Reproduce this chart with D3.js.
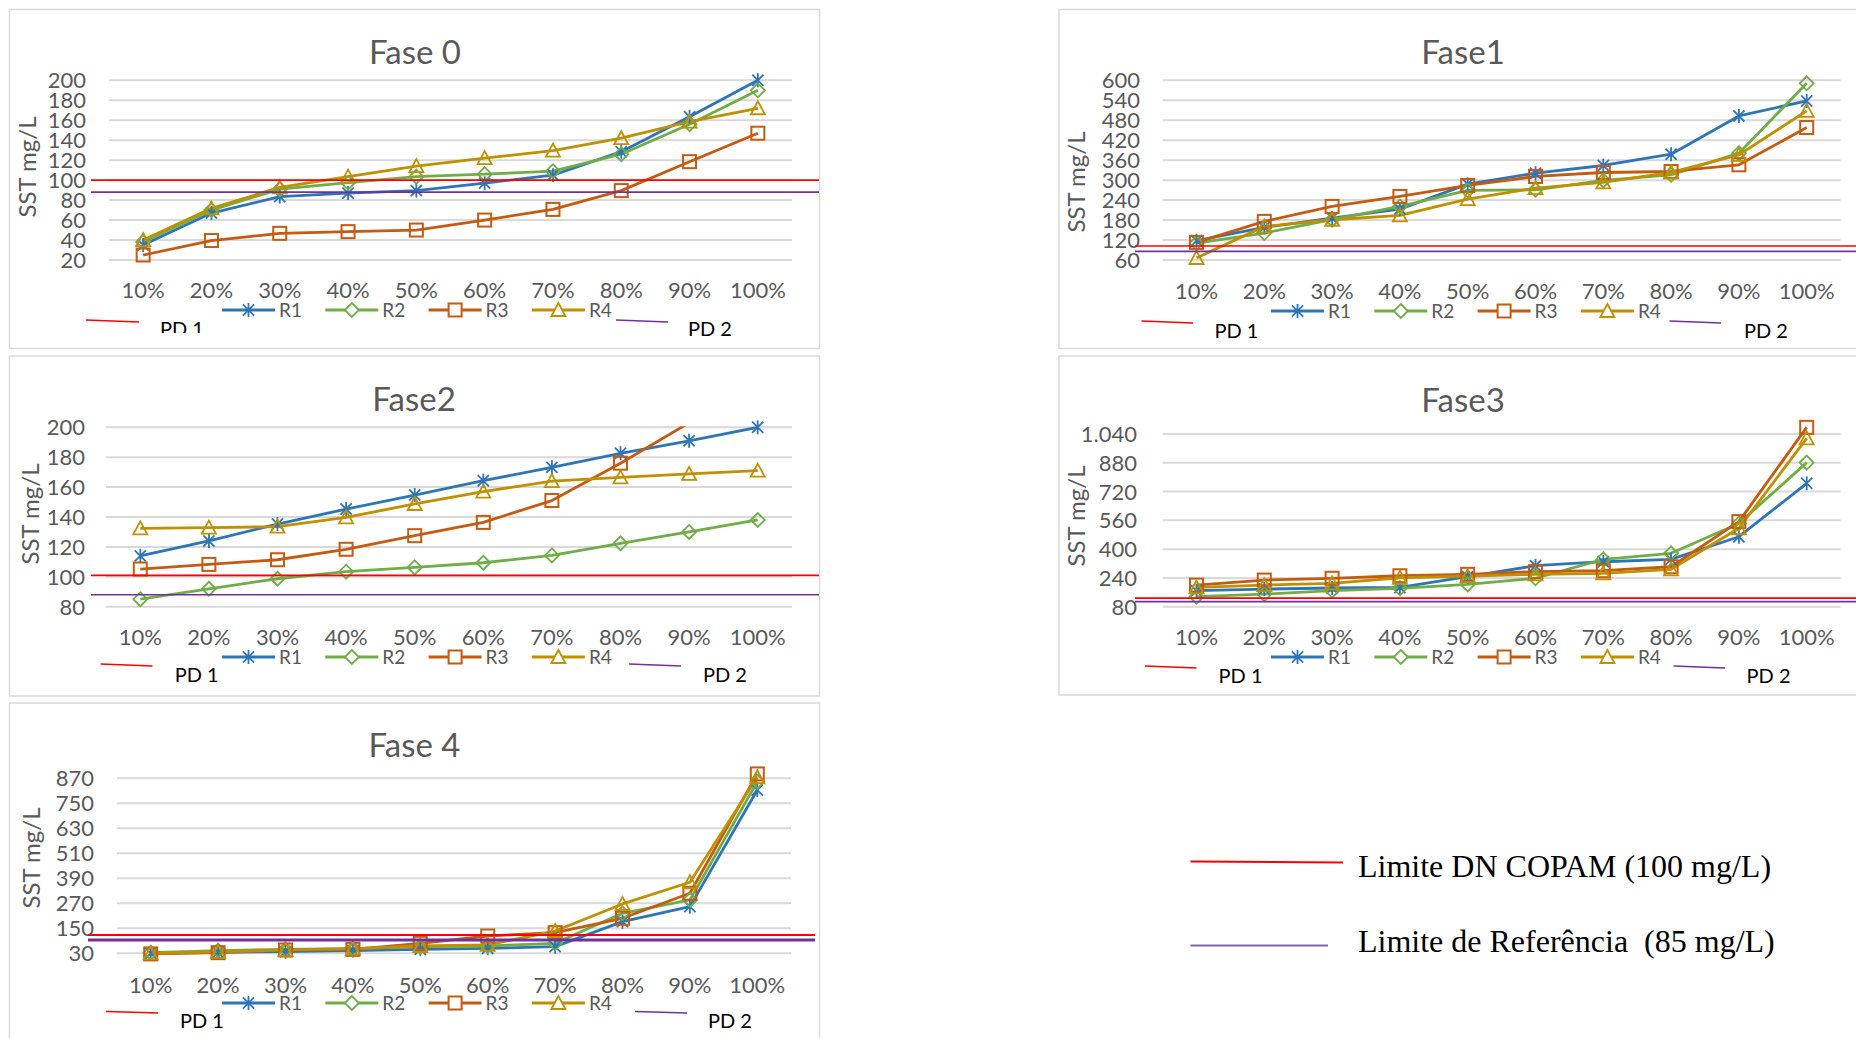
<!DOCTYPE html>
<html><head><meta charset="utf-8">
<script src="https://cdn.jsdelivr.net/npm/d3@7"></script>
<style>
body{margin:0;background:#fff;}
svg{display:block;font-family:Lato,"Open Sans",sans-serif;}
</style></head><body>
<svg id="c" width="1856" height="1038"></svg>
<script>
// ---------- DATA ----------
const categories = ["10%","20%","30%","40%","50%","60%","70%","80%","90%","100%"];
const seriesNames = ["R1","R2","R3","R4"];
const titles = ["Fase 0","Fase1","Fase2","Fase3","Fase 4"];

const fase0R1 = [35, 67, 83.5, 87, 89.5, 97, 105, 128.5, 163.5, 200];
const fase0R2 = [38, 70, 91, 97.5, 103.5, 106, 109, 126, 156, 190];
const fase0R3 = [25, 39.5, 46.7, 48.4, 50, 60, 70.7, 89.5, 118.5, 147];
const fase0R4 = [40, 71.7, 92.8, 103.5, 114, 122, 129.5, 142, 158.6, 172];

const fase1R1 = [118, 158, 186, 213, 288, 321, 344, 378, 493, 538];
const fase1R2 = [111, 141, 181, 221, 269, 271, 299, 316, 381, 591];
const fase1R3 = [113, 176, 221, 251, 284, 311, 323, 326, 346, 458];
const fase1R4 = [66, 161, 181, 194, 243, 276, 293, 323, 376, 508];

const fase2R1 = [114, 124, 135.3, 145.3, 154.7, 164.3, 173.2, 182.6, 191, 200];
const fase2R2 = [85, 92, 98.7, 103.4, 106.3, 109.4, 114.3, 122.4, 130, 138];
const fase2R3 = [105.2, 108.3, 111.4, 118.4, 127.5, 136.4, 151, 176, 203, 240];
const fase2R4 = [132.4, 132.9, 133.5, 139.8, 148.7, 157, 164, 166.5, 168.8, 171];

const fase3R1 = [169, 178, 184, 187, 247, 308, 330, 343, 469, 766];
const fase3R2 = [136, 150, 169, 182, 204, 238, 343, 377, 543, 881];
const fase3R3 = [200, 228, 238, 252, 260, 275, 280, 302, 553, 1077];
const fase3R4 = [187, 200, 210, 241, 250, 260, 265, 288, 516, 1016];

const fase4R1 = [30, 35, 38, 43, 49, 54, 62, 182, 254, 814];
const fase4R2 = [33, 43, 49, 52, 62, 65, 78, 222, 286, 854];
const fase4R3 = [27, 33, 46, 49, 78, 113, 129, 198, 318, 891];
const fase4R4 = [30, 37, 46, 52, 65, 70, 137, 267, 371, 875];

const fase0Ticks = [20,40,60,80,100,120,140,160,180,200];
const fase1Ticks = [60,120,180,240,300,360,420,480,540,600];
const fase2Ticks = [80,100,120,140,160,180,200];
const fase3Ticks = [80,240,400,560,720,880,1040];
const fase4Ticks = [30,150,270,390,510,630,750,870];

// limit lines as drawn over each panel
const copamDrawn = [100, 102, 101, 128, 118];
const refDrawn   = [88, 86, 88, 108, 94];

const legendLabels = ["Limite DN COPAM (100 mg/L)", "Limite de Referência  (85 mg/L)"];

// ---------- STYLE / LAYOUT ----------
const colors = ["#2e75b6","#70ad47","#c55a11","#bf9000"];
const gray = "#595959";
const ptBR = d3.formatLocale({decimal:",", thousands:".", grouping:[3], currency:["R$",""]});
const fmt = ptBR.format(",");

const panels = [
 {series:[fase0R1,fase0R2,fase0R3,fase0R4], ticks:fase0Ticks,
  box:[9.5,9.5,810,339], xr:[109,792], yr:[260,80.3], titleX:415, titleY:64, tickRight:86, xLabY:298,
  legY:310, legX:222, ytX:36, ytY:167, refX:[91,819], pdY:[320,322], pd1:[86,139], pd1T:160,
  pd2:[616,668], pd2T:688, pdTextY:336, pdClip:333, refW:[1.7,1.7]},
 {series:[fase1R1,fase1R2,fase1R3,fase1R4], ticks:fase1Ticks,
  box:[1059,9.5,820,339], xr:[1162.6,1840.6], yr:[260,80.3], titleX:1463, titleY:64, tickRight:1140, xLabY:299,
  legY:311, legX:1271, ytX:1085, ytY:182, refX:[1135,1856], pdY:[321,323], pd1:[1141.5,1193], pd1T:1214.5,
  pd2:[1669.5,1721], pd2T:1744, pdTextY:338, refW:[1.7,1.7]},
 {series:[fase2R1,fase2R2,fase2R3,fase2R4], ticks:fase2Ticks,
  box:[9.5,356,810,340], xr:[106,792], yr:[606.7,427.3], titleX:414, titleY:411, tickRight:85, xLabY:645,
  legY:657, legX:222, ytX:38.5, ytY:514, refX:[91,819], pdY:[664,666], pd1:[100.6,152.5], pd1T:174.7,
  pd2:[629,681], pd2T:703, pdTextY:682, clipMax:200, refW:[1.7,1.7]},
 {series:[fase3R1,fase3R2,fase3R3,fase3R4], ticks:fase3Ticks,
  box:[1059,356,820,339], xr:[1162.6,1840.6], yr:[606.7,434], titleX:1463, titleY:412, tickRight:1137, xLabY:645,
  legY:657, legX:1271, ytX:1085, ytY:516, refX:[1135,1856], pdY:[666,668], pd1:[1145,1196.5], pd1T:1218.6,
  pd2:[1673.6,1725], pd2T:1746.6, pdTextY:683, refW:[1.7,1.7]},
 {series:[fase4R1,fase4R2,fase4R3,fase4R4], ticks:fase4Ticks,
  box:[9.5,703,810,400], xr:[117,791], yr:[953.3,778.3], titleX:414.5, titleY:757, tickRight:94, xLabY:993,
  legY:1003, legX:222, ytX:40, ytY:858, refX:[88,815], pdY:[1011.5,1013], pd1:[106,158], pd1T:180,
  pd2:[635,687], pd2T:708, pdTextY:1028, refW:[2,3]}
];

const svg = d3.select("#c");
const defs = svg.append("defs");

function marker(g, type, x, y, color, fill){
  const s = 7;
  if(type===0){
    const p = d3.path();
    p.moveTo(x-s*0.8,y-s*0.8); p.lineTo(x+s*0.8,y+s*0.8);
    p.moveTo(x+s*0.8,y-s*0.8); p.lineTo(x-s*0.8,y+s*0.8);
    p.moveTo(x,y-s); p.lineTo(x,y+s);
    g.append("path").attr("d",p.toString()).attr("stroke",color).attr("stroke-width",1.8).attr("fill","none");
  } else if(type===1){
    g.append("path").attr("d",`M${x},${y-s}L${x+s},${y}L${x},${y+s}L${x-s},${y}Z`)
     .attr("stroke",color).attr("stroke-width",1.8).attr("fill",fill);
  } else if(type===2){
    g.append("rect").attr("x",x-6.5).attr("y",y-6.5).attr("width",13).attr("height",13)
     .attr("stroke",color).attr("stroke-width",2).attr("fill",fill);
  } else {
    g.append("path").attr("d",`M${x},${y-7}L${x+7},${y+6}L${x-7},${y+6}Z`)
     .attr("stroke",color).attr("stroke-width",1.8).attr("fill",fill);
  }
}

panels.forEach((P,i)=>{
  const g = svg.append("g");
  // panel border
  g.append("rect").attr("x",P.box[0]).attr("y",P.box[1]).attr("width",P.box[2]).attr("height",P.box[3])
   .attr("fill","#fff").attr("stroke","#d9d9d9").attr("stroke-width",1.5);

  const x = d3.scalePoint().domain(categories).range(P.xr).padding(0.5);
  const y = d3.scaleLinear().domain([P.ticks[0], P.ticks[P.ticks.length-1]]).range(P.yr);

  // title
  g.append("text").attr("x",P.titleX).attr("y",P.titleY).attr("text-anchor","middle")
   .attr("font-size",33).attr("fill",gray).text(titles[i]);

  // gridlines + y tick labels
  const grid = g.append("g");
  grid.selectAll("line").data(P.ticks).join("line")
   .attr("x1",P.xr[0]).attr("x2",P.xr[1]).attr("y1",d=>y(d)).attr("y2",d=>y(d))
   .attr("stroke","#d9d9d9").attr("stroke-width",2);
  grid.selectAll("text").data(P.ticks).join("text")
   .attr("x",P.tickRight).attr("y",d=>y(d)+8).attr("text-anchor","end")
   .attr("font-size",22).attr("fill",gray).text(d=>fmt(d));

  // x labels
  g.append("g").selectAll("text").data(categories).join("text")
   .attr("x",d=>x(d)).attr("y",P.xLabY).attr("text-anchor","middle")
   .attr("font-size",22).attr("fill",gray).text(d=>d);

  // y axis title
  g.append("text").attr("transform",`translate(${P.ytX},${P.ytY}) rotate(-90)`)
   .attr("text-anchor","middle").attr("font-size",24).attr("fill",gray).text("SST mg/L");

  // clip for series lines
  const clipId = "clip"+i;
  const topY = P.clipMax!==undefined ? y(P.clipMax) - 1 : P.box[1];
  defs.append("clipPath").attr("id",clipId).append("rect")
   .attr("x",P.box[0]).attr("y",topY).attr("width",P.box[2]).attr("height",P.box[1]+P.box[3]-topY);

  // series
  const line = d3.line().x((d,j)=>x(categories[j])).y(d=>y(d));
  P.series.forEach((vals,s)=>{
    g.append("path").attr("d",line(vals)).attr("fill","none").attr("stroke",colors[s])
     .attr("stroke-width",2.8).attr("stroke-linejoin","round").attr("clip-path",`url(#${clipId})`);
  });
  P.series.forEach((vals,s)=>{
    const mg = g.append("g");
    vals.forEach((v,j)=>{
      if(P.clipMax!==undefined && v>P.clipMax) return;
      marker(mg, s, x(categories[j]), y(v), colors[s], "none");
    });
  });

  // limit lines
  g.append("line").attr("x1",P.refX[0]).attr("x2",P.refX[1]).attr("y1",y(copamDrawn[i])).attr("y2",y(copamDrawn[i]))
   .attr("stroke","#ff0000").attr("stroke-width",P.refW[0]);
  g.append("line").attr("x1",P.refX[0]).attr("x2",P.refX[1]).attr("y1",y(refDrawn[i])).attr("y2",y(refDrawn[i]))
   .attr("stroke","#7030a0").attr("stroke-width",P.refW[1]);

  // series legend
  const lg = g.append("g");
  seriesNames.forEach((n,s)=>{
    const lx = P.legX + s*103.3;
    lg.append("line").attr("x1",lx).attr("x2",lx+53).attr("y1",P.legY).attr("y2",P.legY)
     .attr("stroke",colors[s]).attr("stroke-width",2.8);
    marker(lg, s, lx+26.5, P.legY, colors[s], "#fff");
    lg.append("text").attr("x",lx+57).attr("y",P.legY+7).attr("font-size",19).attr("fill",gray).text(n);
  });

  // PD legend
  g.append("line").attr("x1",P.pd1[0]).attr("x2",P.pd1[1]).attr("y1",P.pdY[0]).attr("y2",P.pdY[1])
   .attr("stroke","#ff0000").attr("stroke-width",1.5);
  g.append("line").attr("x1",P.pd2[0]).attr("x2",P.pd2[1]).attr("y1",P.pdY[0]).attr("y2",P.pdY[1])
   .attr("stroke","#7030a0").attr("stroke-width",1.5);
  const pd1 = g.append("text").attr("x",P.pd1T).attr("y",P.pdTextY).attr("font-size",20).attr("fill","#000").text("PD 1");
  if(P.pdClip){
    defs.append("clipPath").attr("id","pdclip"+i).append("rect")
     .attr("x",P.pd1T-5).attr("y",P.pdTextY-30).attr("width",80).attr("height",P.pdClip-(P.pdTextY-30));
    pd1.attr("clip-path",`url(#pdclip${i})`);
  }
  g.append("text").attr("x",P.pd2T).attr("y",P.pdTextY).attr("font-size",20).attr("fill","#000").text("PD 2");
});

// bottom-right legend
const bl = svg.append("g").style("font-family","'Liberation Serif','Times New Roman',serif");
bl.append("line").attr("x1",1190.5).attr("x2",1343).attr("y1",861.5).attr("y2",862.5).attr("stroke","#ff0000").attr("stroke-width",2);
bl.append("text").attr("x",1358).attr("y",877).attr("font-size",32).attr("fill","#000").style("white-space","pre").text(legendLabels[0]);
bl.append("line").attr("x1",1190.5).attr("x2",1328).attr("y1",945.5).attr("y2",945.5).attr("stroke","#8064a2").attr("stroke-width",2.2);
bl.append("text").attr("x",1358).attr("y",952).attr("font-size",32).attr("fill","#000").style("white-space","pre").text(legendLabels[1]);
</script>
</body></html>
